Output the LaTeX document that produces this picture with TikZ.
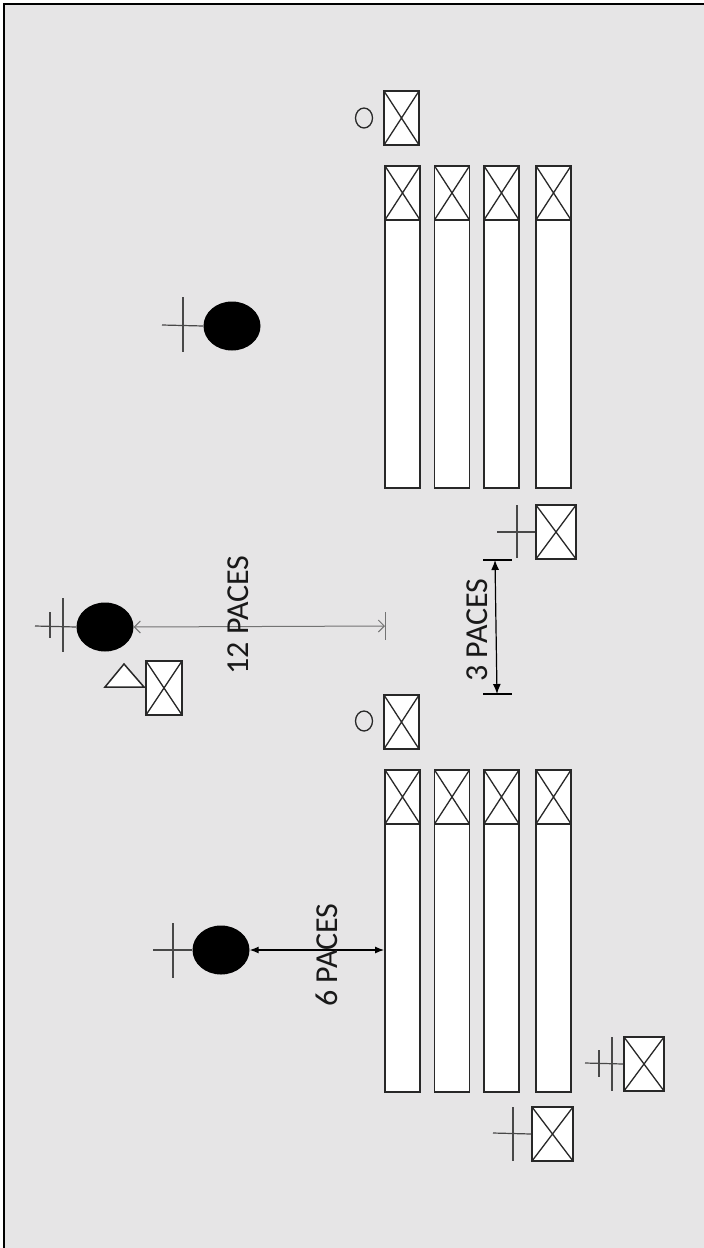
\documentclass[tikz,border=0pt]{standalone}
\usepackage{fontspec}
\setmainfont{Carlito}
\usepackage{tikz}
\usetikzlibrary{shapes.geometric, arrows.meta}
\definecolor{fieldgray}{RGB}{230, 229, 230}
\definecolor{linedark}{RGB}{40, 40, 40}

\begin{document}
\begin{tikzpicture}[
    x=1pt, y=-1pt,
    file/.style={draw=linedark, fill=white, line width=1.8pt, minimum width=35pt,
                 minimum height=322pt, inner sep=0pt, anchor=north},
    xbox/.style={draw=linedark, fill=white, line width=1.8pt, minimum width=35pt,
                 minimum height=54pt, inner sep=0pt,
                 path picture={\draw[linedark, line width=1.3pt]
                    (path picture bounding box.north west) -- (path picture bounding box.south east)
                    (path picture bounding box.north east) -- (path picture bounding box.south west);}},
    guide/.style={ellipse, fill=black, minimum width=57pt, minimum height=49pt, inner sep=0pt},
    ring/.style={ellipse, draw=linedark, line width=1.3pt, minimum width=17pt,
                 minimum height=20pt, inner sep=0pt},
    staff/.style={draw=linedark!85, line width=1.2pt},
    paces/.style={font=\fontsize{32}{36}\selectfont, rotate=90, text=black!90}
]
    \useasboundingbox (0,0) rectangle (704,1248);
    \clip (0,0) rectangle (704,1248);
    \draw[fill=fieldgray, line width=1.5pt] (4,4) rectangle (760,1300);

    % Files of both groups
    \foreach \cx [count=\i] in {402.5,452,501.5,553.5} {
        \node[file] (up\i) at (\cx,165) {};
        \node[xbox, anchor=north] (upx\i) at (\cx,165) {};
        \node[file] (lo\i) at (\cx,769) {};
        \node[xbox, anchor=north] (lox\i) at (\cx,769) {};
    }

    % Markers in front of the files
    \node[xbox] (flagup) at (401.5,118) {};
    \node[ring] (ringup) at (364,118) {};
    \node[xbox] (flaglo) at (401.5,722) {};
    \node[ring] (ringlo) at (364,721) {};

    % Upper guide
    \node[guide] (guideup) at (232,326) {};
    \draw[staff] (162,325) -- (guideup.west);
    \draw[staff] (183,297) -- (183,352);

    % Commander
    \node[guide] (chief) at (105,627) {};
    \draw[staff] (35,626) -- (chief.west);
    \draw[staff] (63,598) -- (63,652);
    \draw[staff] (50,612) -- (50,638);
    \draw[linedark, fill=white, line width=1.5pt] (105,687) -- (124,664) -- (144,687) -- cycle;
    \node[xbox, minimum width=36pt] (chiefbox) at (164,688) {};

    % 12 paces
    \coordinate (rankline) at (385,626);
    \draw[black!55, line width=1pt, {Straight Barb[length=6pt,width=12pt]}-{Straight Barb[length=6pt,width=12pt]}]
        (chief.east) -- (rankline);
    \draw[black!55, line width=1pt] (385,612) -- (385,640);
    \node[paces] (twelve) at (238,615) {12 PACES};

    % 3 paces
    \node[xbox, minimum width=40pt] (markbox) at (556,532) {};
    \draw[staff] (497,532) -- (markbox.west);
    \draw[staff] (517,505) -- (517,558);
    \coordinate (gapa) at (495,560);
    \coordinate (gapb) at (497,694);
    \draw[line width=1.2pt, {Latex[length=10pt,width=8pt]}-{Latex[length=10pt,width=8pt]}] (gapa) -- (gapb);
    \draw[line width=1.2pt] (483,560) -- (512,560);
    \draw[line width=1.2pt] (483,694) -- (512,694);
    \node[paces] (three) at (477,630) {3 PACES};

    % Lower guide
    \node[guide] (guidelo) at (221,950) {};
    \draw[staff] (153,950) -- (guidelo.west);
    \draw[staff] (173,923) -- (173,978);
    \draw[line width=1.2pt, {Latex[length=9pt,width=7pt]}-{Latex[length=9pt,width=7pt]}]
        (guidelo.east) -- (guidelo.east -| lo1.west);
    \node[paces] (six) at (327,955) {6 PACES};

    % Rear markers
    \node[xbox, minimum width=40pt] (rearone) at (644,1064) {};
    \draw[staff] (585,1063) -- (rearone.west);
    \draw[staff] (612,1037) -- (612,1091);
    \draw[staff] (599,1050) -- (599,1077);
    \node[xbox, minimum width=41pt] (reartwo) at (552.5,1134) {};
    \draw[staff] (493,1133) -- (reartwo.west);
    \draw[staff] (513,1107) -- (513,1161);
\end{tikzpicture}
\end{document}
